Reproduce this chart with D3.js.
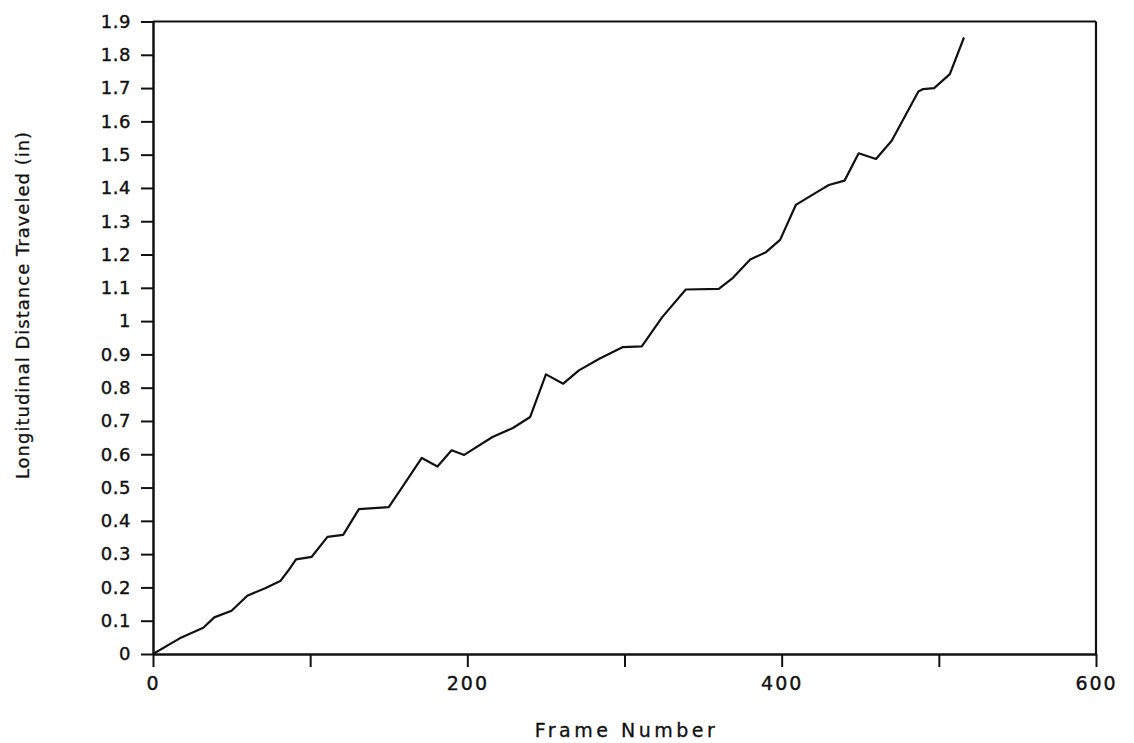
<!DOCTYPE html>
<html>
<head>
<meta charset="utf-8">
<script src="https://cdn.jsdelivr.net/npm/d3@7"></script>
<style>
  body { margin: 0; background: #fff; }
  text { font-family: "DejaVu Sans", sans-serif; fill: #111; }
</style>
</head>
<body>
<div id="container"></div>
<script>
// frame number vs longitudinal distance (in)
var frames = [0, 17, 32, 39, 50, 60, 71, 81, 86, 91, 101, 111, 121, 131, 150, 157, 171, 181, 190, 198,
  216, 229, 240, 250, 261, 271, 284, 299, 311, 324, 339, 360, 369, 380, 390, 399, 409, 424, 430, 440,
  449, 460, 470, 487, 490, 497, 507, 516];
var distance = [0, 0.047, 0.079, 0.11, 0.13, 0.175, 0.197, 0.219, 0.25, 0.284, 0.292, 0.352, 0.358, 0.435, 0.441, 0.49, 0.589, 0.563, 0.612, 0.598,
  0.652, 0.679, 0.712, 0.84, 0.812, 0.852, 0.887, 0.922, 0.924, 1.012, 1.095, 1.097, 1.13, 1.185, 1.207, 1.244, 1.349, 1.392, 1.409, 1.422,
  1.504, 1.487, 1.542, 1.69, 1.697, 1.7, 1.742, 1.852];

var xTicks = [0, 100, 200, 300, 400, 500, 600];
var xTickLabels = ["0", "", "200", "", "400", "", "600"];
var yTicks = [0, 0.1, 0.2, 0.3, 0.4, 0.5, 0.6, 0.7, 0.8, 0.9, 1, 1.1, 1.2, 1.3, 1.4, 1.5, 1.6, 1.7, 1.8, 1.9];

var W = 1134, H = 743;
// plot box edges in pixels
var plotLeft = 153, plotRight = 1096, plotTop = 21.5, plotBottom = 654;

var svg = d3.select("#container").append("svg")
  .attr("width", W).attr("height", H);

var x = d3.scaleLinear().domain([0, 600]).range([plotLeft, plotRight]);
var y = d3.scaleLinear().domain([0, 1.9]).range([plotBottom, plotTop]);

// frame: top and right lines
svg.append("line").attr("x1", plotLeft).attr("x2", plotRight).attr("y1", plotTop).attr("y2", plotTop)
  .attr("stroke", "#111").attr("stroke-width", 2.2);
svg.append("line").attr("x1", plotRight).attr("x2", plotRight).attr("y1", plotTop).attr("y2", plotBottom)
  .attr("stroke", "#111").attr("stroke-width", 2.2);

// x axis
var xAxis = d3.axisBottom(x).tickValues(xTicks).tickSize(13).tickSizeOuter(0).tickPadding(10)
  .tickFormat(function (d, i) { return xTickLabels[i]; });
var gx = svg.append("g").attr("transform", "translate(0," + plotBottom + ")").call(xAxis);
gx.select(".domain").attr("stroke", "#111").attr("stroke-width", 2.5);
gx.selectAll(".tick line").attr("stroke", "#111").attr("stroke-width", 2);
gx.selectAll(".tick text").attr("font-size", 19).attr("letter-spacing", 2)
  .attr("font-family", "DejaVu Sans").attr("fill", "#111")
  .attr("stroke", "#111").attr("stroke-width", 0.4);

// y axis
var yAxis = d3.axisLeft(y).tickValues(yTicks).tickSize(12).tickSizeOuter(0).tickPadding(10)
  .tickFormat(function (d) { return d3.format("~g")(d); });
var gy = svg.append("g").attr("transform", "translate(" + plotLeft + ",0)").call(yAxis);
gy.select(".domain").attr("stroke", "#111").attr("stroke-width", 2.5);
gy.selectAll(".tick line").attr("stroke", "#111").attr("stroke-width", 2);
gy.selectAll(".tick text").attr("font-size", 18).attr("letter-spacing", 0.5)
  .attr("font-family", "DejaVu Sans").attr("fill", "#111")
  .attr("stroke", "#111").attr("stroke-width", 0.4);

// data line
var pts = frames.map(function (f, i) { return [f, distance[i]]; });
var line = d3.line().x(function (d) { return x(d[0]); }).y(function (d) { return y(d[1]); });
svg.append("path").datum(pts)
  .attr("d", line)
  .attr("fill", "none")
  .attr("stroke", "#111")
  .attr("stroke-width", 2.2)
  .attr("stroke-linejoin", "round");

// axis titles
svg.append("text")
  .attr("x", (plotLeft + plotRight) / 2 + 2).attr("y", 737)
  .attr("text-anchor", "middle")
  .attr("font-size", 19).attr("letter-spacing", 3.5)
  .attr("stroke", "#111").attr("stroke-width", 0.3)
  .text("Frame Number");

svg.append("text")
  .attr("transform", "translate(29," + 305 + ") rotate(-90)")
  .attr("text-anchor", "middle")
  .attr("font-size", 18).attr("letter-spacing", 1)
  .attr("stroke", "#111").attr("stroke-width", 0.3)
  .text("Longitudinal Distance Traveled (in)");
</script>
</body>
</html>
